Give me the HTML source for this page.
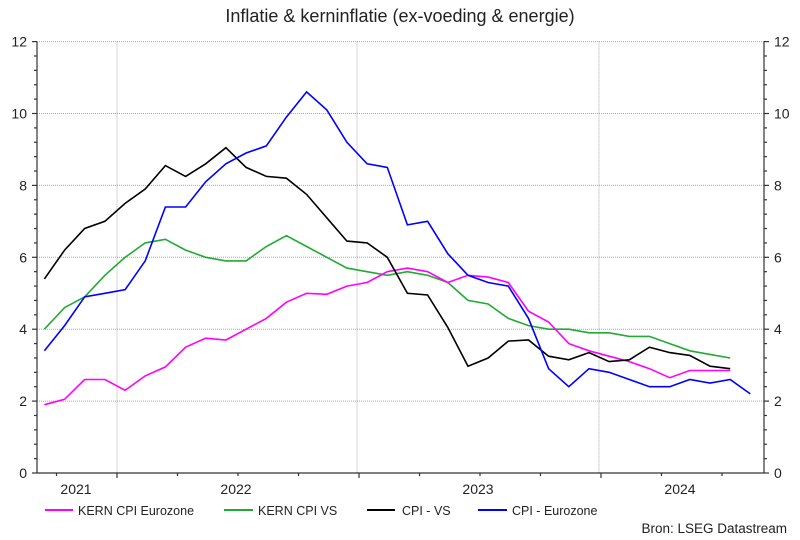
<!DOCTYPE html>
<html><head><meta charset="utf-8"><style>
html,body{margin:0;padding:0;background:#fff;}
svg{display:block;font-family:"Liberation Sans",sans-serif;}
</style></head><body>
<svg id="s" width="800" height="540" viewBox="0 0 800 540" xmlns="http://www.w3.org/2000/svg">
<text x="400" y="22" font-size="18" text-anchor="middle" fill="#222">Inflatie &amp; kerninflatie (ex-voeding &amp; energie)</text>
<g id="grid" stroke="#aaa" stroke-width="1" stroke-dasharray="1,1"></g>
<g id="axes" stroke="#333" stroke-width="1.2" fill="none"></g>
<g id="labels" font-size="14" fill="#222"></g>
<g id="series" fill="none" stroke-width="1.6" stroke-linejoin="miter"></g>
<g font-size="12.5" fill="#222">
<line x1="45" y1="510" x2="73" y2="510" stroke="#ff00ff" stroke-width="2"/><text x="78" y="515">KERN CPI Eurozone</text>
<line x1="224" y1="510" x2="253" y2="510" stroke="#22aa33" stroke-width="2"/><text x="258" y="515">KERN CPI VS</text>
<line x1="367" y1="510" x2="395" y2="510" stroke="#000" stroke-width="2"/><text x="402" y="515">CPI - VS</text>
<line x1="478" y1="510" x2="507" y2="510" stroke="#0000ff" stroke-width="2"/><text x="512" y="515">CPI - Eurozone</text>
<text x="787" y="533" text-anchor="end" font-size="13.5">Bron: LSEG Datastream</text>
</g>
</svg>
<script>
var NS="http://www.w3.org/2000/svg";
function el(p,t,a,txt){var e=document.createElementNS(NS,t);for(var k in a)e.setAttribute(k,a[k]);if(txt!==undefined)e.textContent=txt;document.getElementById(p).appendChild(e);}
var L=37,R=764,B=473,U=35.95;
function Y(v){return B-v*U;}
function X(m){return 117+20.17*(m+0.4);}
for(var v=2;v<=12;v+=2){el("grid","line",{x1:L,x2:R,y1:Y(v),y2:Y(v)});}
[117,357,599].forEach(function(x){el("grid","line",{x1:x,x2:x,y1:Y(12),y2:B});});
el("axes","line",{x1:L,x2:L,y1:Y(12),y2:B});
el("axes","line",{x1:R,x2:R,y1:Y(12),y2:B});
el("axes","line",{x1:L,x2:R,y1:B,y2:B});
for(var i=0;i<=30;i++){var v=i*0.4,y=Y(v),mj=(i%5==0);
 el("axes","line",{x1:L-(mj?5:3),x2:L,y1:y,y2:y});
 el("axes","line",{x1:R,x2:R+(mj?5:3),y1:y,y2:y});
 if(mj){el("labels","text",{x:L-10,y:y+5,"text-anchor":"end"},String(v));
  el("labels","text",{x:R+10,y:y+5},String(v));}}
for(var q=-3;q<=10;q++){var x=117+60.5*q;if(x<L||x>R)continue;var yr=(q%4==0);
 el("axes","line",{x1:x,x2:x,y1:B,y2:B+(yr?5:3)});}
[["2021",76],["2022",236],["2023",478],["2024",680]].forEach(function(a){el("labels","text",{x:a[1],y:494,"text-anchor":"middle"},a[0]);});
var S=[
["#22aa33",[4.0,4.6,4.9,5.5,6.0,6.4,6.5,6.2,6.0,5.9,5.9,6.3,6.6,6.3,6.0,5.7,5.6,5.5,5.6,5.5,5.3,4.8,4.7,4.3,4.1,4.0,4.0,3.9,3.9,3.8,3.8,3.6,3.4,3.3,3.2]],
["#ff00ff",[1.9,2.05,2.6,2.6,2.3,2.7,2.95,3.5,3.75,3.7,4.0,4.3,4.75,5.0,4.97,5.2,5.3,5.6,5.7,5.6,5.3,5.5,5.45,5.3,4.5,4.2,3.6,3.4,3.25,3.1,2.9,2.65,2.85,2.85,2.85]],
["#000000",[5.4,6.2,6.8,7.0,7.5,7.9,8.55,8.25,8.6,9.05,8.5,8.25,8.2,7.75,7.1,6.45,6.4,6.0,5.0,4.95,4.05,2.97,3.2,3.67,3.7,3.25,3.15,3.35,3.1,3.15,3.5,3.35,3.27,2.97,2.9]],
["#0000ff",[3.4,4.1,4.9,5.0,5.1,5.9,7.4,7.4,8.1,8.6,8.9,9.1,9.9,10.6,10.1,9.2,8.6,8.5,6.9,7.0,6.1,5.5,5.3,5.2,4.3,2.9,2.4,2.9,2.8,2.6,2.4,2.4,2.6,2.5,2.6,2.2]]];
S.forEach(function(s){var p=s[1].map(function(v,i){return X(i-4).toFixed(1)+","+Y(v).toFixed(1);}).join(" ");
 el("series","polyline",{points:p,stroke:s[0]});});
</script>
</body></html>
